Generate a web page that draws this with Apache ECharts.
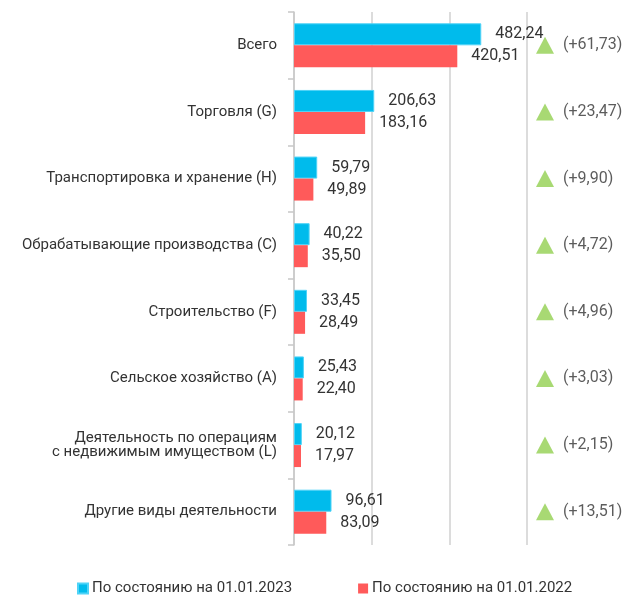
<!DOCTYPE html>
<html>
<head>
<meta charset="utf-8">
<script src="https://cdn.jsdelivr.net/npm/echarts@6/dist/echarts.min.js"></script>
<style>
html,body{margin:0;padding:0;background:#fff;}
#c{width:628px;height:601px;}
</style>
</head>
<body>
<div id="c"></div>
<script>
const categories = [
  'Всего',
  'Торговля (G)',
  'Транспортировка и хранение (H)',
  'Обрабатывающие производства (C)',
  'Строительство (F)',
  'Сельское хозяйство (A)',
  'Деятельность по операциям\nс недвижимым имуществом (L)',
  'Другие виды деятельности'
];
const values2023 = [482.24, 206.63, 59.79, 40.22, 33.45, 25.43, 20.12, 96.61];
const values2022 = [420.51, 183.16, 49.89, 35.50, 28.49, 22.40, 17.97, 83.09];
const changes = [61.73, 23.47, 9.90, 4.72, 4.96, 3.03, 2.15, 13.51];
const seriesNames = ['По состоянию на 01.01.2023', 'По состоянию на 01.01.2022'];
const xTicks = [0, 200, 400, 600];

const FONT = 'Roboto';
const TXT = '#333333';
const fmt = v => v.toFixed(2).replace('.', ',');

const chart = echarts.init(document.getElementById('c'), null, {renderer: 'canvas'});
chart.setOption({
  animation: false,
  textStyle: {fontFamily: FONT},
  legend: {
    top: 576,
    left: 72,
    itemGap: 66,
    itemWidth: 10,
    itemHeight: 10,
    icon: 'rect',
    textStyle: {fontSize: 15, color: TXT, fontFamily: FONT, padding: [0, 0, 0, -1]},
    data: seriesNames
  },
  grid: [
    {left: 294, right: 101, top: 12, bottom: 56},
    {left: 545, right: 0, top: 12, bottom: 56}
  ],
  xAxis: [
    {
      gridIndex: 0, type: 'value',
      min: xTicks[0], max: xTicks[xTicks.length - 1], interval: xTicks[1] - xTicks[0],
      axisLabel: {show: false}, axisLine: {show: false}, axisTick: {show: false},
      splitLine: {show: true, lineStyle: {color: '#d0d0d0', width: 1.5}}
    },
    {
      gridIndex: 1, type: 'value', min: 0, max: 1, show: false
    }
  ],
  yAxis: [
    {
      gridIndex: 0, type: 'category', inverse: true, data: categories,
      axisLine: {show: true, lineStyle: {color: '#c8c8c8', width: 1.5}},
      axisTick: {show: true, length: 6, lineStyle: {color: '#c8c8c8', width: 1.5}},
      axisLabel: {fontSize: 15, color: TXT, margin: 17, lineHeight: 14, fontFamily: FONT,
                  padding: [0, 0, 6, 0]}
    },
    {
      gridIndex: 1, type: 'category', inverse: true, data: categories, show: false
    }
  ],
  series: [
    {
      name: seriesNames[0], type: 'bar', xAxisIndex: 0, yAxisIndex: 0,
      data: values2023, barWidth: 22, barGap: '0%',
      itemStyle: {color: '#00BBEC', borderColor: '#4fd3f7', borderWidth: 1},
      label: {show: true, position: 'right', distance: 14, fontSize: 16, color: TXT,
              fontFamily: FONT, formatter: p => fmt(p.value)}
    },
    {
      name: seriesNames[1], type: 'bar', xAxisIndex: 0, yAxisIndex: 0,
      data: values2022, barWidth: 22, barGap: '0%',
      itemStyle: {color: '#FF5A5A'},
      label: {show: true, position: 'right', distance: 14, fontSize: 16, color: TXT,
              fontFamily: FONT, formatter: p => fmt(p.value)}
    },
    {
      type: 'scatter', xAxisIndex: 1, yAxisIndex: 1,
      data: changes.map((v, i) => [0, i, v]),
      symbol: 'triangle', symbolSize: [18, 17],
      itemStyle: {color: '#92D050'},
      label: {show: true, position: 'right', distance: 9, fontSize: 16, color: TXT,
              fontFamily: FONT, formatter: p => '(+' + fmt(p.value[2]) + ')'}
    }
  ]
});
</script>
</body>
</html>
